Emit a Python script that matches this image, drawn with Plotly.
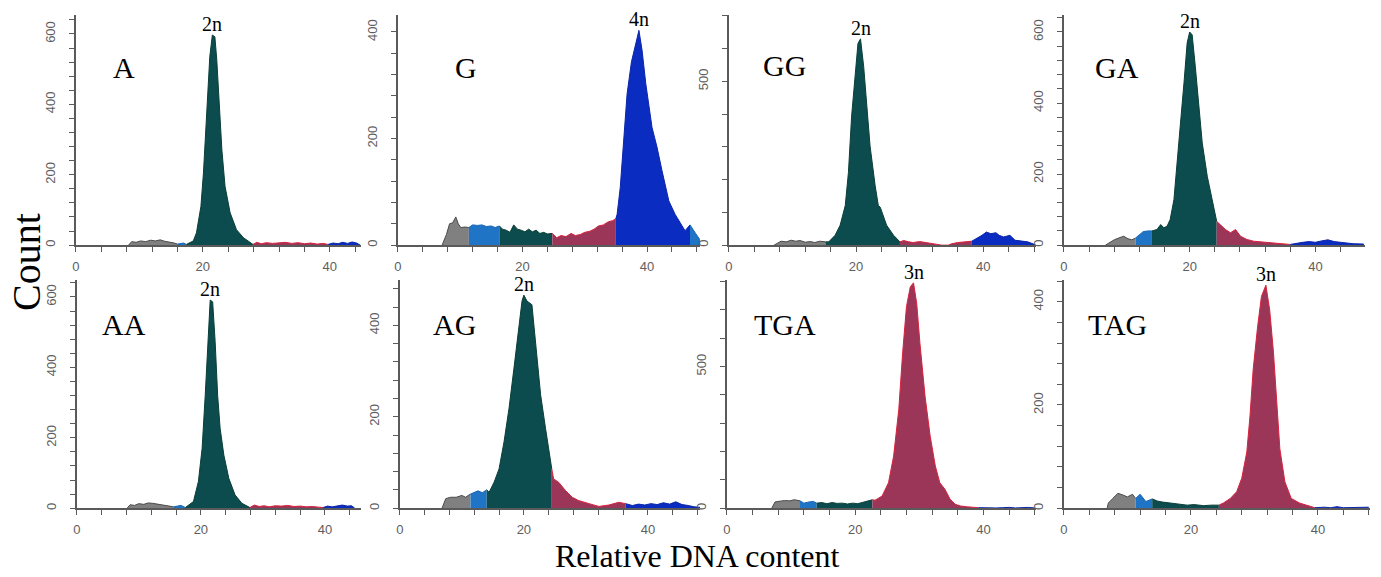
import plotly.graph_objects as go

W, H = 1381, 577

# ---------------- data (relative DNA content vs count) ----------------
A_x = [8.3, 8.8, 9.5, 10.2, 11.0, 11.8, 12.5, 13.3, 14.0, 14.8, 15.5, 16.0, 16.5, 17.0, 17.4, 18.5, 19.0, 19.7, 20.1, 20.6,
       21.1, 21.5, 21.9, 22.2, 22.6, 23.0, 23.5, 24.3, 25.3, 26.4, 27.9, 28.5, 29.2, 30.0, 31.0, 32.0, 33.0, 34.0, 35.0, 36.0,
       37.0, 38.0, 39.0, 39.7, 40.5, 41.3, 42.0, 42.8, 43.5, 44.2, 44.8]
A_y = [0, 10, 8, 12, 10, 14, 12, 15, 11, 9, 6, 3, 5, 6, 2, 12, 35, 110, 205, 385,
       536, 597, 592, 526, 385, 271, 167, 92, 44, 21, 2, 8, 4, 7, 5, 6, 8, 5, 7, 4,
       6, 3, 5, 2, 6, 4, 8, 5, 9, 6, 0]
A_gates = [8.3, 16.0, 17.4, 27.9, 39.7, 44.8]
A_gate_names = ["gray", "lightblue", "teal", "crimson", "blue"]

G_x = [7.1, 7.8, 8.3, 8.8, 9.3, 9.7, 10.1, 10.8, 11.4, 12.0, 12.8, 13.5, 14.2, 15.0, 15.6, 16.3, 16.8, 17.4, 18.0, 18.6,
       19.2, 19.8, 20.4, 21.0, 21.6, 22.2, 22.8, 23.4, 24.0, 24.8, 25.5, 26.2, 27.0, 27.8, 28.5, 29.3, 30.0, 30.8, 31.5, 32.2,
       33.0, 33.8, 34.5, 35.0, 35.2, 35.7, 36.3, 36.8, 37.5, 38.1, 38.7, 39.2, 39.8, 40.8, 41.6, 42.4, 43.5, 44.5, 45.3, 46.1,
       46.9, 47.3, 47.8, 48.5]
G_y = [0, 20, 40, 42, 53, 40, 33, 34, 33, 38, 37, 38, 35, 36, 33, 36, 30, 28, 24, 38,
       30, 28, 25, 30, 25, 28, 22, 24, 21, 22, 14, 18, 16, 22, 18, 20, 24, 26, 30, 36,
       38, 44, 46, 50, 58, 108, 209, 284, 344, 372, 403, 366, 303, 221, 184, 140, 83, 58, 43, 27,
       38, 30, 22, 10]
G_gates = [7.1, 11.4, 16.3, 24.8, 35.0, 46.9, 48.5]
G_gate_names = ["gray", "lightblue", "teal", "crimson", "blue", "lightblue"]

GG_x = [7.1, 7.6, 8.2, 9.0, 9.8, 10.5, 11.2, 12.0, 12.8, 13.5, 14.3, 15.2, 15.7, 16.7, 17.5, 18.3, 18.8, 19.3, 19.9, 20.3,
        20.7, 21.2, 21.7, 22.2, 23.0, 23.5, 23.8, 24.1, 24.8, 25.9, 26.9, 27.5, 28.3, 29.0, 30.0, 31.0, 32.0, 33.0, 33.5, 34.5,
        35.0, 36.0, 37.0, 38.2, 39.0, 39.8, 40.5, 41.2, 42.0, 42.5, 43.2, 44.2, 45.0, 46.0, 47.0, 48.1]
GG_y = [0, 6, 12, 10, 15, 12, 14, 9, 11, 8, 12, 10, 10, 30, 61, 121, 222, 394, 545, 616,
        630, 545, 424, 303, 182, 121, 116, 101, 61, 30, 10, 14, 10, 8, 11, 8, 6, 3, 0, 0,
        4, 8, 10, 12, 20, 30, 40, 35, 38, 30, 25, 30, 15, 12, 10, 2]
GG_gates = [7.1, 15.2, 26.9, 38.2, 48.1]
GG_gate_names = ["gray", "teal", "crimson", "blue"]

GA_x = [6.6, 7.3, 8.0, 8.7, 9.5, 10.2, 10.8, 11.4, 12.0, 12.6, 13.3, 14.0, 14.8, 15.4, 15.9, 16.4, 16.9, 17.5, 18.0, 18.5,
        19.1, 19.6, 20.0, 20.4, 20.9, 21.5, 22.0, 22.8, 23.6, 24.3, 24.9, 25.7, 26.5, 27.3, 28.1, 29.1, 30.2, 31.8, 33.4, 34.5,
        36.0, 37.0, 38.0, 39.0, 40.0, 41.0, 42.0, 43.0, 44.0, 45.0, 46.0, 47.7]
GA_y = [0, 8, 15, 20, 25, 18, 15, 20, 30, 38, 40, 40, 44, 58, 49, 53, 72, 128, 222, 335,
        457, 569, 600, 592, 503, 391, 288, 194, 128, 67, 58, 44, 35, 44, 25, 16, 11, 8, 7, 3,
        2, 6, 8, 10, 8, 12, 15, 10, 8, 6, 4, 3]
GA_gates = [6.6, 11.4, 14.0, 24.3, 36.0, 47.7]
GA_gate_names = ["gray", "lightblue", "teal", "crimson", "blue"]

AA_x = [8.1, 8.6, 9.3, 10.0, 10.8, 11.5, 12.2, 13.0, 13.8, 14.6, 15.6, 16.2, 16.8, 17.5, 18.8, 19.6, 20.2, 20.7, 21.2, 21.5,
        21.9, 22.3, 22.7, 23.1, 23.7, 24.5, 25.5, 26.6, 27.9, 28.6, 29.4, 30.2, 31.0, 32.0, 33.0, 34.0, 35.0, 36.0, 37.0, 38.0,
        39.0, 39.7, 40.4, 41.2, 42.0, 42.8, 43.6, 44.3, 44.8]
AA_y = [0, 10, 8, 13, 11, 15, 14, 12, 10, 7, 4, 6, 8, 2, 19, 76, 170, 321, 491, 591,
        586, 473, 321, 227, 151, 85, 38, 14, 2, 9, 5, 7, 4, 7, 6, 8, 5, 6, 4, 5,
        3, 2, 6, 4, 7, 9, 6, 7, 0]
AA_gates = [8.1, 15.6, 17.5, 27.9, 39.7, 44.8]
AA_gate_names = ["gray", "lightblue", "teal", "crimson", "blue"]

AG_x = [6.8, 7.4, 8.2, 9.1, 10.0, 10.6, 11.4, 12.0, 12.6, 13.3, 14.0, 14.4, 15.2, 16.0, 16.8, 17.6, 18.4, 19.2, 19.7, 20.0,
        20.5, 21.3, 21.9, 22.7, 23.5, 24.5, 24.8, 25.6, 26.7, 27.8, 28.8, 30.5, 32.1, 33.7, 35.3, 36.4, 37.5, 38.5, 39.5, 40.5,
        41.5, 42.5, 43.5, 44.5, 45.5, 46.5, 47.5, 48.4]
AG_y = [0, 21, 24, 24, 28, 24, 31, 35, 38, 34, 40, 35, 57, 86, 145, 218, 306, 394, 453, 466,
        453, 445, 357, 248, 174, 86, 64, 57, 39, 24, 17, 10, 4, 7, 13, 10, 6, 9, 7, 10,
        8, 12, 9, 14, 8, 6, 3, 2]
AG_gates = [6.8, 11.4, 14.0, 24.5, 36.4, 48.4]
AG_gate_names = ["gray", "lightblue", "teal", "crimson", "blue"]

TGA_x = [7.0, 7.5, 8.3, 9.0, 9.8, 10.5, 11.4, 12.0, 12.8, 13.5, 14.0, 14.8, 15.6, 16.4, 17.2, 18.0, 18.8, 19.6, 20.4, 21.2,
         22.0, 22.7, 23.1, 24.2, 25.2, 26.0, 26.8, 27.4, 28.0, 28.6, 29.1, 29.6, 30.1, 30.9, 31.7, 32.5, 33.2, 34.0, 34.8, 35.6,
         36.4, 37.5, 38.5, 39.2, 40.0, 41.0, 42.0, 43.0, 44.0, 45.0, 46.0, 47.0, 48.0]
TGA_y = [0, 22, 25, 27, 26, 30, 26, 18, 22, 24, 18, 20, 16, 20, 17, 18, 15, 18, 16, 20,
         24, 30, 28, 43, 90, 184, 348, 547, 711, 781, 795, 722, 582, 395, 254, 149, 90, 67, 32, 14,
         8, 5, 4, 2, 1, 2, 1, 2, 3, 1, 2, 3, 1]
TGA_gates = [7.0, 11.4, 14.0, 22.7, 39.2, 48.0]
TGA_gate_names = ["gray", "lightblue", "teal", "crimson", "blue"]

TAG_x = [6.8, 7.0, 7.7, 8.5, 9.2, 10.0, 10.8, 11.3, 12.0, 12.9, 13.9, 14.7, 15.5, 16.8, 18.0, 19.4, 20.5, 22.0, 23.2, 24.4,
         25.1, 26.2, 27.2, 28.0, 28.8, 29.3, 29.8, 30.5, 31.1, 31.8, 32.4, 33.0, 33.5, 34.0, 34.8, 35.8, 37.1, 38.7, 39.5, 41.0,
         42.0, 43.0, 44.0, 46.0, 48.0]
TAG_y = [0, 10, 19, 29, 26, 22, 27, 19, 27, 13, 18, 14, 12, 10, 8, 6, 7, 5, 6, 6,
         10, 19, 32, 58, 109, 179, 269, 352, 410, 432, 384, 301, 205, 115, 51, 19, 10, 3, 1, 2,
         1, 3, 1, 2, 2]
TAG_gates = [6.8, 11.3, 13.9, 24.4, 39.5, 48.0]
TAG_gate_names = ["gray", "lightblue", "teal", "crimson", "blue"]

panel_names = ["A", "G", "GG", "GA", "AA", "AG", "TGA", "TAG"]
ploidy_labels = ["2n", "4n", "2n", "2n", "2n", "2n", "3n", "3n"]
panel_data = {
    "A": (A_x, A_y, A_gates, A_gate_names),
    "G": (G_x, G_y, G_gates, G_gate_names),
    "GG": (GG_x, GG_y, GG_gates, GG_gate_names),
    "GA": (GA_x, GA_y, GA_gates, GA_gate_names),
    "AA": (AA_x, AA_y, AA_gates, AA_gate_names),
    "AG": (AG_x, AG_y, AG_gates, AG_gate_names),
    "TGA": (TGA_x, TGA_y, TGA_gates, TGA_gate_names),
    "TAG": (TAG_x, TAG_y, TAG_gates, TAG_gate_names),
}
x_axis_max = [44.9, 48.5, 48.3, 47.9, 45.8, 48.4, 48.2, 48.2]
y_axis_max = [654, 432, 703, 648, 648, 499, 805, 442]
y_major_step = [200, 200, 500, 200, 200, 200, 500, 200]
y_minor_step = [40, 40, 100, 40, 40, 40, 100, 40]

# ---------------- styling / layout geometry ----------------
gate_colors = {
    "gray": ("#808080", "#4a4a4a"),
    "lightblue": ("#1f74c6", "#1565b5"),
    "teal": ("#0c4b4e", "#0b3f36"),
    "crimson": ("#9c3659", "#d8213c"),
    "blue": ("#0b2cc0", "#0a25a8"),
}
# pixel positions of each panel: (left, right) and row (bottom, top)
x_px = [(72, 358), (395, 698), (727, 1035), (1063, 1365),
        (73, 358), (397, 698), (725, 1035), (1063, 1370)]
row_px = [(246, 15), (246, 15), (246, 15), (246, 15),
          (510, 281), (510, 281), (510, 281), (510, 281)]
label_px = [(120, 68), (463, 68), (783, 66), (1116, 68),
            (120, 326), (452, 326), (783, 326), (1117, 326)]

serif = "Liberation Serif, Times New Roman, serif"
tick_font = dict(family="Liberation Sans Narrow, Arial Narrow, Liberation Sans, Arial, sans-serif",
                 size=13, color="#5e5e5e")
axis_col = "#5a5a5a"

fig = go.Figure()
layout = dict(
    width=W, height=H, margin=dict(l=0, r=0, t=0, b=0),
    paper_bgcolor="white", plot_bgcolor="white", showlegend=False,
)
annotations = []

for i, name in enumerate(panel_names):
    xs, ys, gates, gnames = panel_data[name]
    assert len(xs) == len(ys), name
    sfx = "" if i == 0 else str(i + 1)
    for j, g in enumerate(gnames):
        lo, hi = gates[j], gates[j + 1]
        sx = [x for x in xs if lo <= x <= hi]
        sy = [y for x, y in zip(xs, ys) if lo <= x <= hi]
        fill, line = gate_colors[g]
        fig.add_trace(go.Scatter(
            x=sx, y=sy, mode="lines", fill="tozeroy", fillcolor=fill,
            line=dict(color=line, width=1), xaxis="x" + sfx, yaxis="y" + sfx,
            hoverinfo="skip", showlegend=False))

    l, r = x_px[i]
    b, t = row_px[i]
    layout["xaxis" + sfx] = dict(
        domain=[l / W, r / W], range=[0, x_axis_max[i]], anchor="y" + sfx,
        showline=True, linecolor=axis_col, linewidth=1.6, mirror=False,
        showgrid=False, zeroline=False,
        tickmode="array", tickvals=[0, 20, 40], ticks="outside", ticklen=5,
        tickcolor=axis_col, tickwidth=1.3, tickfont=tick_font, ticklabelstandoff=3,
        minor=dict(dtick=4, tick0=0, ticks="outside", ticklen=5, tickcolor=axis_col,
                   tickwidth=1.3, showgrid=False),
    )
    layout["yaxis" + sfx] = dict(
        domain=[1 - b / H, 1 - t / H], range=[0, y_axis_max[i]], anchor="x" + sfx,
        showline=True, linecolor=axis_col, linewidth=1.6,
        showgrid=False, zeroline=False,
        dtick=y_major_step[i], tick0=0, ticks="outside", ticklen=5,
        tickcolor=axis_col, tickwidth=1.3, tickangle=-90, tickfont=tick_font,
        ticklabelstandoff=9,
        minor=dict(dtick=y_minor_step[i], tick0=0, ticks="outside", ticklen=5,
                   tickcolor=axis_col, tickwidth=1.3, showgrid=False),
    )

    # ploidy label above the highest bin
    k = ys.index(max(ys))
    annotations.append(dict(
        text=ploidy_labels[i], x=xs[k], y=ys[k], xref="x" + sfx, yref="y" + sfx,
        xanchor="center", yanchor="bottom", showarrow=False, yshift=-2,
        font=dict(family=serif, size=20, color="black")))
    # sample name
    lx, ly = label_px[i]
    annotations.append(dict(
        text=name, x=lx / W, y=1 - ly / H, xref="paper", yref="paper",
        xanchor="center", yanchor="middle", showarrow=False,
        font=dict(family=serif, size=30, color="black")))

annotations.append(dict(
    text="Count", x=22 / W, y=1 - 263 / H, xref="paper", yref="paper",
    xanchor="center", yanchor="middle", textangle=-90, showarrow=False,
    font=dict(family=serif, size=40, color="black")))
annotations.append(dict(
    text="Relative DNA content", x=695 / W, y=1 - 558 / H, xref="paper", yref="paper",
    xanchor="center", yanchor="middle", showarrow=False,
    font=dict(family=serif, size=32, color="black")))

layout["annotations"] = annotations
fig.update_layout(**layout)
fig.write_html("out.html", config={"displayModeBar": False},
               post_script="document.body.style.margin='0';document.body.style.overflow='hidden';")
